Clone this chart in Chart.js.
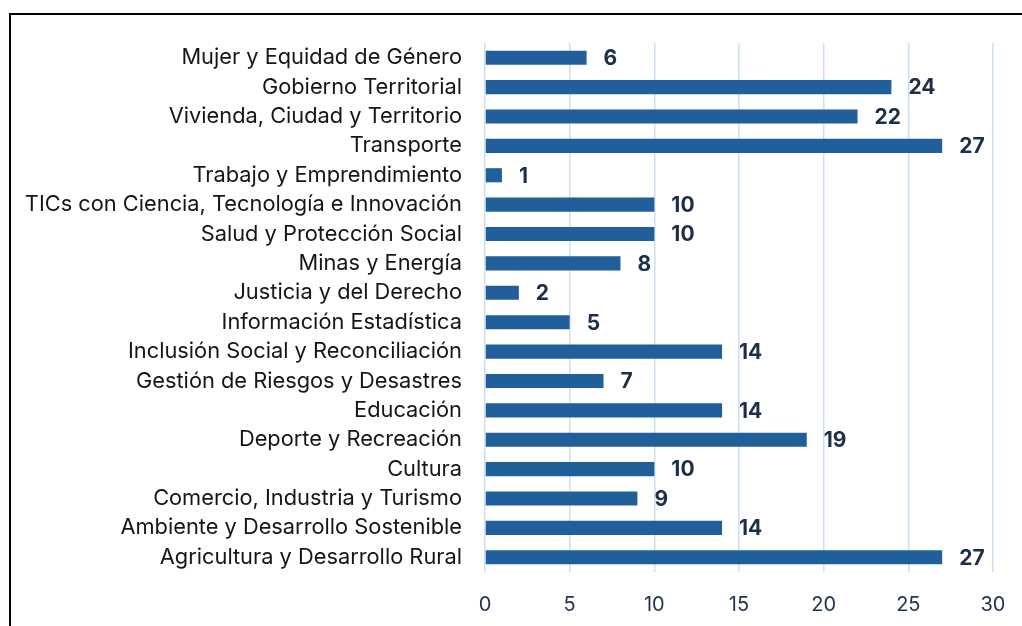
<!DOCTYPE html>
<html>
<head>
<meta charset="utf-8">
<script src="https://cdn.jsdelivr.net/npm/chart.js@4.4.1/dist/chart.umd.min.js"></script>
<style>
  html, body { margin: 0; padding: 0; background: #fff; overflow: hidden; }
  #wrap { position: relative; width: 1022px; height: 626px; }
  #frame { position: absolute; left: 9px; top: 13px; width: 1030px; height: 640px; border: 2px solid #000; box-sizing: border-box; }
  canvas { position: absolute; left: 0; top: 0; }
</style>
</head>
<body>
<div id="wrap">
  <div id="frame"></div>
  <canvas id="barChart" width="1022" height="626"></canvas>
</div>
<script>
// 카테고리 & 값
const categories = [
    'Mujer y Equidad de Género',
    'Gobierno Territorial',
    'Vivienda, Ciudad y Territorio',
    'Transporte',
    'Trabajo y Emprendimiento',
    'TICs con Ciencia, Tecnología e Innovación',
    'Salud y Protección Social',
    'Minas y Energía',
    'Justicia y del Derecho',
    'Información Estadística',
    'Inclusión Social y Reconciliación',
    'Gestión de Riesgos y Desastres',
    'Educación',
    'Deporte y Recreación',
    'Cultura',
    'Comercio, Industria y Turismo',
    'Ambiente y Desarrollo Sostenible',
    'Agricultura y Desarrollo Rural'
];
const values = [6, 24, 22, 27, 1, 10, 10, 8, 2, 5, 14, 7, 14, 19, 10, 9, 14, 27];
const xTicks = [0, 5, 10, 15, 20, 25, 30];

const FONT = 'Inter, sans-serif';

// 막대 끝 값 라벨
const valueLabels = {
    id: 'valueLabels',
    afterDatasetsDraw(chart) {
        const ctx = chart.ctx;
        const meta = chart.getDatasetMeta(0);
        ctx.save();
        ctx.font = 'bold 21px ' + FONT;
        ctx.fillStyle = '#1b2f4a';
        ctx.textAlign = 'left';
        ctx.textBaseline = 'middle';
        meta.data.forEach((bar, i) => {
            ctx.fillText(String(values[i]), bar.x + 17, bar.y + 1);
        });
        ctx.restore();
    }
};

document.fonts.ready.then(() => {
    const ctx = document.getElementById('barChart').getContext('2d');
    new Chart(ctx, {
        type: 'bar',
        data: {
            labels: categories,
            datasets: [{
                data: values,
                backgroundColor: '#215f9a',
                borderWidth: 0,
                barPercentage: 0.48,
                categoryPercentage: 1
            }]
        },
        options: {
            indexAxis: 'y',
            responsive: false,
            animation: false,
            layout: { padding: { top: 43, right: 29, bottom: 0, left: 0 } },
            plugins: { legend: { display: false }, tooltip: { enabled: false } },
            scales: {
                x: {
                    min: 0,
                    max: 30,
                    afterBuildTicks: axis => { axis.ticks = xTicks.map(v => ({ value: v })); },
                    afterFit: axis => {
                        axis.height = 54;
                        axis.paddingLeft = 0;
                        axis.paddingRight = 0;
                    },
                    grid: { color: '#cddff2', lineWidth: 1.5, drawTicks: false },
                    border: { display: false },
                    ticks: { padding: 21, color: '#1e3350', font: { family: FONT, size: 20 } }
                },
                y: {
                    afterFit: axis => {
                        axis.width = 485;
                        axis.paddingTop = 0;
                        axis.paddingBottom = 0;
                    },
                    grid: { display: false, drawTicks: false },
                    border: { display: false },
                    ticks: { padding: 23, color: '#161616', autoSkip: false, font: { family: FONT, size: 21.8 } }
                }
            }
        },
        plugins: [valueLabels]
    });
});
</script>
</body>
</html>
